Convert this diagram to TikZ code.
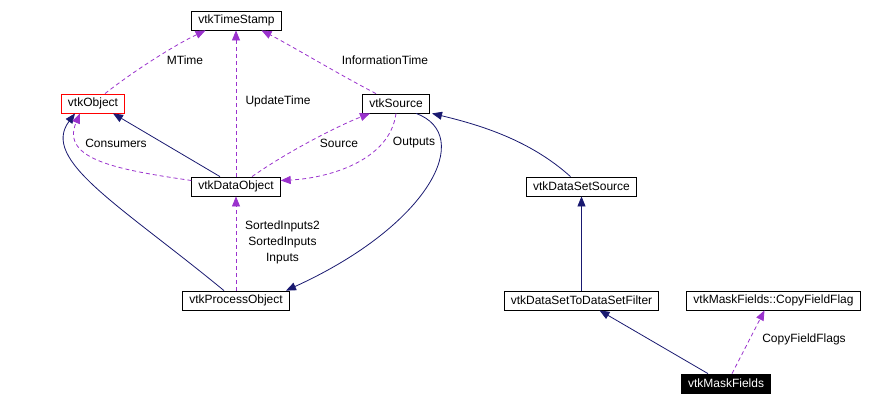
\documentclass[tikz,border=0pt]{standalone}
\usepackage{fontspec}
\setmainfont{Liberation Sans}
\usetikzlibrary{arrows.meta,positioning}
\definecolor{inhcol}{HTML}{191970}
\definecolor{usecol}{HTML}{9A32CD}

\begin{document}
\begin{tikzpicture}[x=1pt, y=-1pt, font=\fontsize{12}{16}\selectfont, cls/.style={draw, rectangle, line width=0.8pt, inner xsep=6.6pt, inner ysep=0pt, minimum height=19pt}, inherit/.style={draw=inhcol, line width=0.8pt, -{Triangle[length=10pt,width=8pt]}}, uses/.style={draw=usecol, line width=0.8pt, dash pattern=on 4pt off 3pt, -{Triangle[length=10pt,width=8pt]}}, lbl/.style={inner sep=0pt}]
	\useasboundingbox (0,0) rectangle (874,405);
	\draw (236.5,20.5)node[cls](ts){vtkTimeStamp};
	\draw (93,103.5)node[cls, draw=red](obj){vtkObject};
	\draw (396,103.5)node[cls](src){vtkSource};
	\draw (236,186.5)node[cls](dobj){vtkDataObject};
	\draw (236,300.5)node[cls](pobj){vtkProcessObject};
	\draw (581.5,186.5)node[cls](dss){vtkDataSetSource};
	\draw (581.5,300.5)node[cls](dsf){vtkDataSetToDataSetFilter};
	\draw (773.5,300.5)node[cls](cff){vtkMaskFields::CopyFieldFlag};
	\draw (726,383.5)node[cls, fill=black, text=white](mf){vtkMaskFields};
	% labels
	\draw (185,60)node[lbl](lmtime){MTime};
	\draw (278,101)node[lbl](lupdate){UpdateTime};
	\draw (385,60)node[lbl](linfo){InformationTime};
	\draw (116,143)node[lbl](lcons){Consumers};
	\draw (339,143)node[lbl](lsource){Source};
	\draw (414,143)node[lbl](loutputs){Outputs};
	\draw (282.5,242)node[lbl, align=center](linputs){SortedInputs2\\SortedInputs\\Inputs};
	\draw (804,339)node[lbl](lflags){CopyFieldFlags};
	% inheritance
	\path[inherit] ([xshift=-16pt]dobj.north) -- ([xshift=20pt]obj.south);
	\path[inherit] ([xshift=-12pt]pobj.north) .. controls (120,205) and (40,160) .. ([xshift=-18pt]obj.south);
	\path[inherit] ([xshift=20pt]src.south) .. controls (475,135) and (430,225) .. ([xshift=50pt]pobj.north);
	\path[inherit] ([xshift=-11pt]dss.north) .. controls (530,140) and (480,125) .. ([xshift=36pt]src.south);
	\path[inherit] (dsf.north) -- (dss.south);
	\path[inherit] ([xshift=-18pt]mf.north) -- ([xshift=18pt]dsf.south);
	% usage
	\path[uses] ([xshift=12pt]obj.north) .. controls (135,70) and (175,45) .. ([xshift=-31pt]ts.south);
	\path[uses] (dobj.north) -- (dobj.north |- ts.south);
	\path[uses] ([xshift=-20pt]src.north) .. controls (340,75) and (290,45) .. ([xshift=25pt]ts.south);
	\path[uses] ([yshift=6pt]dobj.west) .. controls (120,170) and (60,160) .. ([xshift=-13pt]obj.south);
	\path[uses] ([xshift=16pt]dobj.north) .. controls (290,150) and (340,125) .. ([xshift=-26pt]src.south);
	\path[uses] (src.south) .. controls (390,160) and (330,178) .. ([yshift=6pt]dobj.east);
	\path[uses] (pobj.north) -- (dobj.south);
	\path[uses] ([xshift=6pt]mf.north) -- ([xshift=-9pt]cff.south);
\end{tikzpicture}
\end{document}
